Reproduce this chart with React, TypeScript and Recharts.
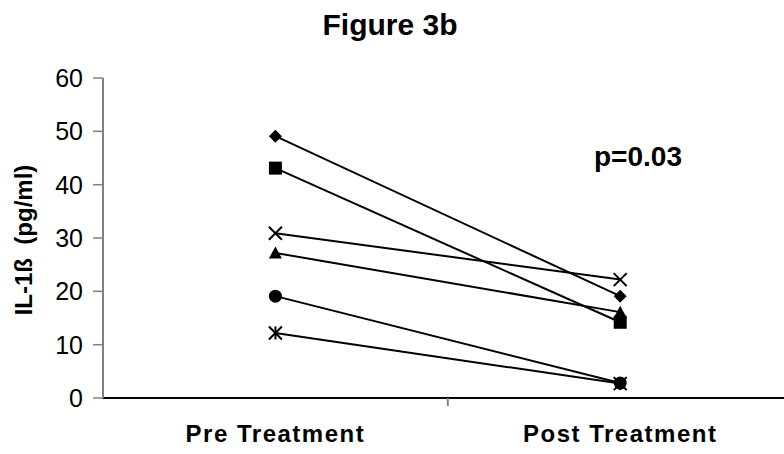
import { LineChart, Line, XAxis, YAxis } from 'recharts';

const categories = ['Pre Treatment', 'Post Treatment'];
const categoryPos = [0.5, 1.5];
const preValues = [49.1, 43.1, 30.9, 27.2, 19.1, 12.2];
const postValues = [19.1, 14.2, 22.2, 16.1, 2.8, 2.7];
const markers = ['diamond', 'square', 'cross', 'triangle', 'circle', 'asterisk'];
const yTicks = [0, 10, 20, 30, 40, 50, 60];
const xTicks = [0.5, 1, 1.5];

const data = categories.map((name, i) => {
  const row: Record<string, number | string> = { name, x: categoryPos[i] };
  const values = i === 0 ? preValues : postValues;
  values.forEach((v, s) => {
    row[`s${s}`] = v;
  });
  return row;
});

const FONT = 'Arial, "Liberation Sans", sans-serif';

function Marker({ cx, cy, kind }: { cx?: number; cy?: number; kind: string }) {
  if (cx == null || cy == null) return null;
  const r = 6.5;
  switch (kind) {
    case 'diamond':
      return <polygon points={`${cx},${cy - r} ${cx + r},${cy} ${cx},${cy + r} ${cx - r},${cy}`} fill="#000" />;
    case 'square':
      return <rect x={cx - r} y={cy - r} width={r * 2} height={r * 2} fill="#000" />;
    case 'triangle':
      return <polygon points={`${cx},${cy - r} ${cx + r},${cy + r - 1} ${cx - r},${cy + r - 1}`} fill="#000" />;
    case 'circle':
      return <circle cx={cx} cy={cy} r={r} fill="#000" />;
    case 'cross':
      return (
        <g stroke="#000" strokeWidth={2}>
          <line x1={cx - r} y1={cy - r} x2={cx + r} y2={cy + r} />
          <line x1={cx - r} y1={cy + r} x2={cx + r} y2={cy - r} />
        </g>
      );
    default:
      return (
        <g stroke="#000" strokeWidth={2}>
          <line x1={cx - r} y1={cy - r} x2={cx + r} y2={cy + r} />
          <line x1={cx - r} y1={cy + r} x2={cx + r} y2={cy - r} />
          <line x1={cx} y1={cy - r} x2={cx} y2={cy + r} />
        </g>
      );
  }
}

function XTick(props: any) {
  const { x, y, payload } = props;
  if (payload.value === 1) {
    return <line x1={x} y1={y - 8} x2={x} y2={y} stroke="#808080" strokeWidth={2} />;
  }
  const idx = categoryPos.indexOf(payload.value);
  return (
    <text x={x} y={y} dy={36} textAnchor="middle" fontFamily={FONT} fontWeight="bold" fontSize={24} letterSpacing={1.5} fill="#000">
      {categories[idx]}
    </text>
  );
}

export default function App() {
  return (
    <div style={{ position: 'absolute', left: 0, top: 0, width: 784, height: 454, background: '#fff' }}>
      <LineChart width={784} height={454} data={data} margin={{ top: 78, right: 0, bottom: 0, left: 0 }}>
        <text x={390} y={35} textAnchor="middle" fontFamily={FONT} fontWeight="bold" fontSize={30} fill="#000">
          Figure 3b
        </text>
        <text x={594} y={166} textAnchor="start" fontFamily={FONT} fontWeight="bold" fontSize={28} fill="#000">
          p=0.03
        </text>
        <text
          x={0}
          y={0}
          transform="translate(32, 240) rotate(-90)"
          textAnchor="middle"
          fontFamily={FONT}
          fontWeight="bold"
          fontSize={24}
          fill="#000"
          style={{ whiteSpace: 'pre' }}
        >
          {'IL-1ß  (pg/ml)'}
        </text>
        <XAxis
          dataKey="x"
          type="number"
          domain={[0, 1.975]}
          ticks={xTicks}
          interval={0}
          height={56}
          tickLine={false}
          tickSize={8}
          tickMargin={0}
          axisLine={{ stroke: '#000', strokeWidth: 2 }}
          tick={<XTick />}
        />
        <YAxis
          type="number"
          domain={[0, 60]}
          ticks={yTicks}
          interval={0}
          width={103}
          tickSize={10}
          tickMargin={10}
          axisLine={{ stroke: '#808080', strokeWidth: 2 }}
          tickLine={{ stroke: '#808080', strokeWidth: 1.5 }}
          tick={{ fontFamily: FONT, fontSize: 25, fill: '#000' }}
        />
        {markers.map((kind, s) => (
          <Line
            key={kind}
            dataKey={`s${s}`}
            type="linear"
            stroke="#000"
            strokeWidth={2}
            isAnimationActive={false}
            activeDot={false}
            dot={(p: any) => <Marker key={`${kind}-${p.index}`} cx={p.cx} cy={p.cy} kind={kind} />}
          />
        ))}
      </LineChart>
    </div>
  );
}
